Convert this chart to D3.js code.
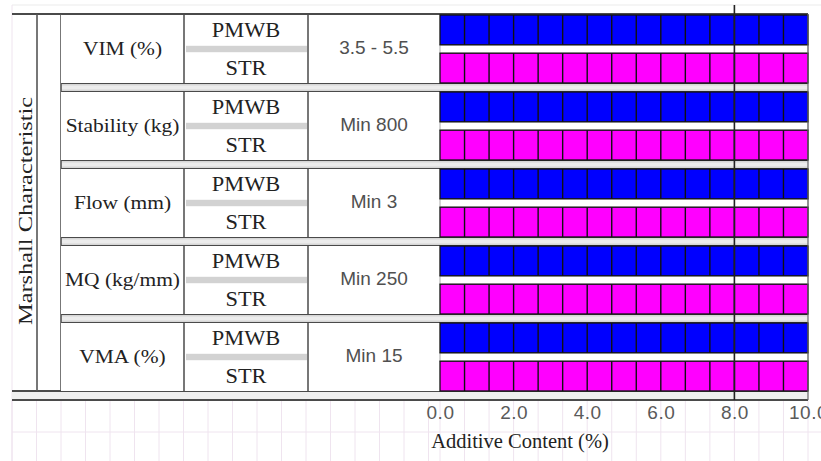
<!DOCTYPE html>
<html>
<head>
<meta charset="utf-8">
<script src="https://cdn.jsdelivr.net/npm/d3@7"></script>
<style>
  html, body { margin: 0; padding: 0; background: #ffffff; }
  svg { display: block; }
  .serif { font-family: "Liberation Serif", "Times New Roman", serif; fill: #222; }
  .sans { font-family: "Liberation Sans", Arial, sans-serif; }
</style>
</head>
<body>
<svg id="chart" width="821" height="461"></svg>
<script>
// ---- data ----
const characteristics = ["VIM (%)", "Stability (kg)", "Flow (mm)", "MQ (kg/mm)", "VMA (%)"];
const specifications = ["3.5 - 5.5", "Min 800", "Min 3", "Min 250", "Min 15"];
const binders = ["PMWB", "STR"];
const pmwbValues = [10, 10, 10, 10, 10];
const strValues = [10, 10, 10, 10, 10];
const tickValues = [0, 2, 4, 6, 8, 10];
const referenceValue = 8;
const cellCount = 15;
const yAxisTitle = "Marshall Characteristic";
const xAxisTitle = "Additive Content (%)";

const colors = { PMWB: "#0000ff", STR: "#ff00ff" };

// ---- layout ----
const W = 821, H = 461;
const svg = d3.select("#chart");
const frameLeft = 12, frameRight = 808;
const colTitleR = 37, colBlankR = 61, colNameR = 184, colTypeR = 308, colSpecR = 440;
const topLine = 14, bottomLine1 = 391, bottomLine2 = 400;

const x = d3.scaleLinear().domain([0, 10]).range([colSpecR, frameRight]);
const yGroup = d3.scaleBand().domain(characteristics).range([15, 391]).paddingInner(0.117);
const ySub = d3.scaleBand().domain(binders).range([0, yGroup.bandwidth()]).paddingInner(0.22);

const rows = characteristics.map((c, i) => ({
  name: c, spec: specifications[i],
  values: { PMWB: pmwbValues[i], STR: strValues[i] }
}));

// ---- faint background grid ----
const gridColor = "#efe4ef";
const gridG = svg.append("g");
const leftGrid = d3.range(frameLeft, colSpecR - 5, 24.5);
const cellTicks = d3.range(0, cellCount + 1).map(k => k * 10 / cellCount);
gridG.selectAll("line.gl").data(leftGrid).join("line")
  .attr("x1", d => d).attr("x2", d => d).attr("y1", bottomLine2).attr("y2", H)
  .attr("stroke", gridColor).attr("stroke-width", 1);
gridG.selectAll("line.gr").data(cellTicks).join("line")
  .attr("x1", d => x(d)).attr("x2", d => x(d)).attr("y1", bottomLine2).attr("y2", H)
  .attr("stroke", gridColor).attr("stroke-width", 1);
gridG.append("line").attr("x1", frameLeft).attr("x2", W).attr("y1", 432).attr("y2", 432)
  .attr("stroke", gridColor);
gridG.append("line").attr("x1", frameLeft).attr("x2", W).attr("y1", 5).attr("y2", 5)
  .attr("stroke", "#ebebeb");
gridG.append("line").attr("x1", frameLeft).attr("x2", frameLeft).attr("y1", 5).attr("y2", H)
  .attr("stroke", gridColor);

// ---- separators between groups ----
const sepG = svg.append("g");
characteristics.forEach((c, i) => {
  const bottom = yGroup(c) + yGroup.bandwidth();
  if (i < characteristics.length - 1) {
    const nextTop = yGroup(characteristics[i + 1]);
    sepG.append("rect").attr("x", colBlankR).attr("y", bottom).attr("width", frameRight - colBlankR)
      .attr("height", nextTop - bottom).attr("fill", "#d6d6d6");
    sepG.append("rect").attr("x", colBlankR).attr("y", bottom + 2.5).attr("width", frameRight - colBlankR)
      .attr("height", nextTop - bottom - 5).attr("fill", "#ececec");
    [bottom, nextTop].forEach(yy => sepG.append("line")
      .attr("x1", colBlankR).attr("x2", frameRight).attr("y1", yy).attr("y2", yy)
      .attr("stroke", "#4a4a4a").attr("stroke-width", 1.8));
  }
});

// bottom double line
svg.append("rect").attr("x", frameLeft).attr("y", bottomLine1).attr("width", frameRight - frameLeft)
  .attr("height", bottomLine2 - bottomLine1).attr("fill", "#efefef");
[bottomLine1, bottomLine2].forEach(yy => svg.append("line")
  .attr("x1", frameLeft).attr("x2", frameRight).attr("y1", yy).attr("y2", yy)
  .attr("stroke", "#4a4a4a").attr("stroke-width", 1.8));

// top line
svg.append("line").attr("x1", frameLeft).attr("x2", frameRight).attr("y1", topLine).attr("y2", topLine)
  .attr("stroke", "#4a4a4a").attr("stroke-width", 2);

// left title column lines
[colTitleR, colBlankR].forEach(xx => svg.append("line")
  .attr("x1", xx).attr("x2", xx).attr("y1", topLine).attr("y2", bottomLine1)
  .attr("stroke", "#555").attr("stroke-width", 1.6));

svg.append("text").attr("class", "serif")
  .attr("transform", `translate(${(frameLeft + colTitleR) / 2 + 1},211) rotate(-90) scale(1.25,1)`)
  .attr("text-anchor", "middle").attr("dominant-baseline", "central")
  .attr("font-size", 19.5).attr("fill", "#333").text(yAxisTitle);

// ---- groups ----
const groups = svg.selectAll("g.group").data(rows).join("g")
  .attr("class", "group")
  .attr("transform", d => `translate(0,${yGroup(d.name)})`);

const bh = yGroup.bandwidth();
const gapTop = ySub.bandwidth(), gapBottom = ySub("STR");

// table cell backgrounds
groups.append("rect").attr("x", colBlankR).attr("y", 0).attr("width", colSpecR - colBlankR)
  .attr("height", bh).attr("fill", "#fff");

// grey band in binder column
groups.append("rect").attr("x", colNameR + 2).attr("y", gapTop + 1).attr("width", colTypeR - colNameR - 3)
  .attr("height", gapBottom - gapTop - 2).attr("fill", "#d2d2d2");

// vertical cell lines
groups.selectAll("line.v").data([colNameR, colTypeR]).join("line")
  .attr("x1", d => d).attr("x2", d => d).attr("y1", 0).attr("y2", bh)
  .attr("stroke", "#555").attr("stroke-width", 1.6);

// characteristic name
groups.append("text").attr("class", "serif")
  .attr("transform", `translate(${(colBlankR + colNameR) / 2},${(gapTop + gapBottom) / 2 - 1}) scale(1.1,1)`)
  .attr("text-anchor", "middle").attr("dominant-baseline", "central")
  .attr("font-size", 19.5).text(d => d.name);

// binder labels
groups.selectAll("text.binder").data(binders).join("text")
  .attr("class", "serif binder")
  .attr("transform", d => `translate(${(colNameR + colTypeR) / 2},${ySub(d) + ySub.bandwidth() / 2 + (d === "PMWB" ? 1 : 0)}) scale(1.12,1)`)
  .attr("text-anchor", "middle").attr("dominant-baseline", "central")
  .attr("font-size", 20).text(d => d);

// specification
groups.append("text").attr("class", "sans")
  .attr("x", (colTypeR + colSpecR) / 2).attr("y", (gapTop + gapBottom) / 2 - 1)
  .attr("text-anchor", "middle").attr("dominant-baseline", "central")
  .attr("font-size", 19).attr("fill", "#505050").text(d => d.spec);

// gap strip between bars
groups.append("rect").attr("x", x(0)).attr("y", gapTop).attr("width", x(10) - x(0))
  .attr("height", gapBottom - gapTop).attr("fill", "#fff")
  .attr("stroke", "#b8b8b8").attr("stroke-width", 1.2);

// bars
const bars = groups.selectAll("g.bar").data(d => binders.map(b => ({ binder: b, value: d.values[b] })))
  .join("g").attr("class", "bar");
bars.append("rect")
  .attr("x", x(0)).attr("y", d => ySub(d.binder))
  .attr("width", d => x(d.value) - x(0)).attr("height", ySub.bandwidth())
  .attr("fill", d => colors[d.binder])
  .attr("stroke", "#111").attr("stroke-width", 1.3);
bars.each(function (d) {
  const g = d3.select(this);
  g.selectAll("line").data(cellTicks.filter(t => t > 0 && t < d.value)).join("line")
    .attr("x1", t => x(t)).attr("x2", t => x(t))
    .attr("y1", ySub(d.binder)).attr("y2", ySub(d.binder) + ySub.bandwidth())
    .attr("stroke", "#111").attr("stroke-width", 1.4);
});

// right frame edge
svg.append("line").attr("x1", frameRight).attr("x2", frameRight).attr("y1", topLine).attr("y2", bottomLine2)
  .attr("stroke", "#666").attr("stroke-width", 1.2);

// reference line at 8.0
svg.append("line").attr("x1", x(referenceValue)).attr("x2", x(referenceValue))
  .attr("y1", 5).attr("y2", bottomLine2)
  .attr("stroke", "#222").attr("stroke-width", 1.6);

// ---- x axis ----
const axis = d3.axisBottom(x).tickValues(tickValues).tickFormat(d3.format(".1f")).tickSize(0).tickPadding(0);
const axG = svg.append("g").attr("transform", `translate(0,405)`).call(axis);
axG.select(".domain").remove();
axG.selectAll("text")
  .attr("font-family", "'Liberation Sans', Arial, sans-serif")
  .attr("font-size", 19).attr("fill", "#5a5a5a").attr("dy", "0.71em")
  .attr("letter-spacing", 0.5);

svg.append("text").attr("class", "serif")
  .attr("x", 520).attr("y", 441).attr("text-anchor", "middle").attr("dominant-baseline", "central")
  .attr("font-size", 20.5).attr("fill", "#222").text(xAxisTitle);
</script>
</body>
</html>
